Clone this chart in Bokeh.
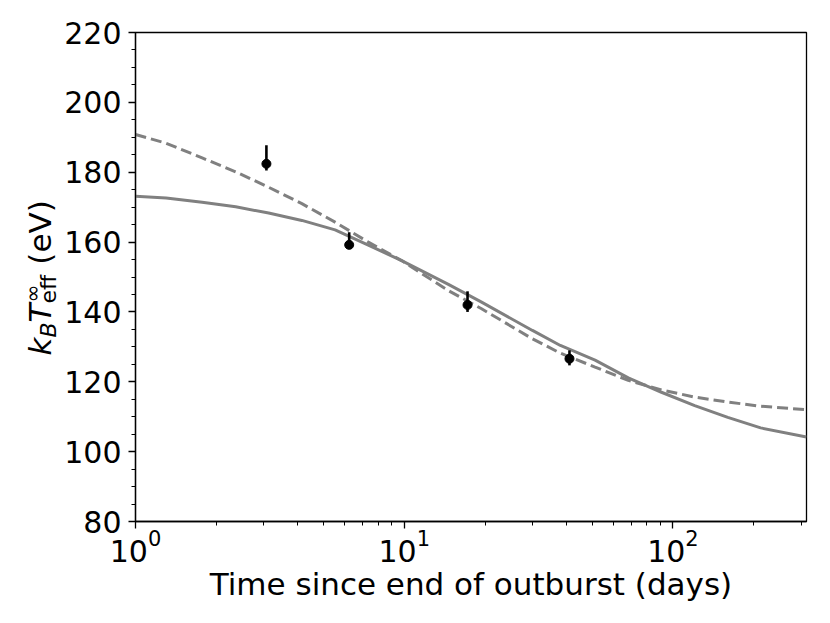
import math
from bokeh.plotting import figure
from bokeh.models import Range1d, FixedTicker
from bokeh.core.properties import value
from bokeh.layouts import row
from bokeh.embed import file_html
from bokeh.resources import INLINE

# ---- data ----
obs_days = [3.07, 6.24, 17.2, 41.2]
obs_temp = [182.4, 159.2, 142.0, 126.6]
obs_upper = [187.7, 162.8, 145.9, 129.0]
obs_lower = [180.5, 158.0, 140.0, 124.7]

curve_days = [1.0, 1.3, 1.77, 2.36, 3.13, 4.16, 5.53, 7.35, 9.78, 14.6, 19.4,
              30.0, 38.1, 51.3, 68.2, 90.6, 120.5, 160.0, 212.0, 314.0]
solid_temp = [173.1, 172.6, 171.4, 170.1, 168.3, 166.2, 163.5, 159.1, 154.7,
              147.9, 142.8, 134.7, 130.4, 126.2, 121.1, 117.0, 113.2, 109.8,
              106.8, 104.2]
dashed_temp = [190.8, 188.3, 184.1, 180.1, 175.7, 171.0, 165.7, 160.0, 154.7,
               146.1, 140.9, 132.3, 128.2, 124.2, 120.4, 117.7, 115.6, 114.2,
               113.0, 112.0]

x_major_ticks = [1, 10, 100]
x_minor_ticks = [2, 3, 4, 5, 6, 7, 8, 9, 20, 30, 40, 50, 60, 70, 80, 90, 200, 300]
y_major_ticks = [80, 100, 120, 140, 160, 180, 200, 220]
y_minor_ticks = [85, 90, 95, 105, 110, 115, 125, 130, 135, 145, 150, 155,
                 165, 170, 175, 185, 190, 195, 205, 210, 215]

x_label = "Time since end of outburst (days)"
y_label_parts = ["k", "B", "T", "eff", "\u221e", "(eV)"]

FONT = "DejaVu Sans"
H = 615
LW = 61
TOP = 32
BOTTOM = 94

# ---- main plot ----
p = figure(width=822 - LW, height=H, x_axis_type="log",
           x_range=Range1d(1, 314), y_range=Range1d(80, 220),
           output_backend="svg", toolbar_location=None,
           min_border_left=133 - LW, min_border_right=16,
           min_border_top=TOP, min_border_bottom=BOTTOM)

p.background_fill_color = "white"
p.border_fill_color = "white"
p.outline_line_color = "black"
p.outline_line_width = 1.3
p.xgrid.visible = False
p.ygrid.visible = False

p.xaxis.ticker = FixedTicker(ticks=x_major_ticks, minor_ticks=x_minor_ticks)
p.yaxis.ticker = FixedTicker(ticks=y_major_ticks, minor_ticks=y_minor_ticks)

for ax in (p.xaxis[0], p.yaxis[0]):
    ax.axis_line_color = "black"
    ax.axis_line_width = 1.3
    ax.major_tick_line_color = "black"
    ax.minor_tick_line_color = "black"
    ax.major_tick_line_width = 1.3
    ax.minor_tick_line_width = 1.0
    ax.major_tick_in = 0
    ax.major_tick_out = 7
    ax.minor_tick_in = 0
    ax.minor_tick_out = 4
    ax.major_label_text_font = FONT
    ax.major_label_text_font_size = "30px"
    ax.major_label_text_color = "black"

p.xaxis.major_label_standoff = 0
p.yaxis.major_label_standoff = 7
p.xaxis.axis_label = x_label
p.xaxis.axis_label_text_font = FONT
p.xaxis.axis_label_text_font_size = "31px"
p.xaxis.axis_label_text_font_style = "normal"
p.xaxis.axis_label_text_color = "black"
p.xaxis.axis_label_standoff = 1

# curves
p.line(curve_days, solid_temp, line_color="#808080", line_width=3)
p.line(curve_days, dashed_temp, line_color="#808080", line_width=3,
       line_dash="11 5")

# observations
p.segment(x0=obs_days, y0=obs_lower, x1=obs_days, y1=obs_upper,
          line_color="black", line_width=2.6)
p.scatter(obs_days, obs_temp, size=9, fill_color="black", line_color="black")

# ---- narrow panel holding the rotated y-axis label ----
# its frame is aligned with the main frame; ranges chosen so 1 unit = 1 px
lab = figure(width=LW, height=H, x_range=Range1d(0, LW),
             y_range=Range1d(BOTTOM, H - TOP),
             output_backend="svg", toolbar_location=None,
             min_border_left=0, min_border_right=0,
             min_border_top=TOP, min_border_bottom=BOTTOM,
             x_axis_location=None, y_axis_location=None, title=None)
lab.outline_line_color = None
lab.background_fill_color = "white"
lab.border_fill_color = "white"
lab.xgrid.visible = False
lab.ygrid.visible = False

ang = math.pi / 2
main_base = 50.0       # wanted baseline (px from left) of the main text
shift = 0.345          # anchor offset (in em) observed for rotated text
start_y = H - 355
# (text, size px, style, baseline offset, advance along the label)
specs = [
    (y_label_parts[0], 31, "italic", 0.0, 17.9),
    (y_label_parts[1], 22, "italic", 5.5, 15.1),
    (y_label_parts[2], 31, "italic", 0.0, 18.9),
    (y_label_parts[3], 22, "normal", 6.0, 29.0 + 9.9),
    (y_label_parts[5], 31, "normal", 0.0, 64.4),
]
pos = start_y
for txt, size, style, dx, adv in specs:
    lab.text(x=[main_base + dx - shift * size], y=[pos], text=[txt], angle=ang,
             text_font=value(FONT), text_font_size=value(f"{size}px"),
             text_font_style=value(style), text_color="black",
             text_baseline=value("alphabetic"), text_align=value("left"))
    if txt == y_label_parts[3]:
        lab.text(x=[main_base - 10.7 - shift * 22], y=[pos + 1],
                 text=[y_label_parts[4]], angle=ang, text_font=value(FONT),
                 text_font_size=value("22px"), text_font_style=value("normal"),
                 text_color="black", text_baseline=value("alphabetic"),
                 text_align=value("left"))
    pos += adv

layout = row(lab, p)
open("out.html", "w").write(file_html(layout, INLINE))
